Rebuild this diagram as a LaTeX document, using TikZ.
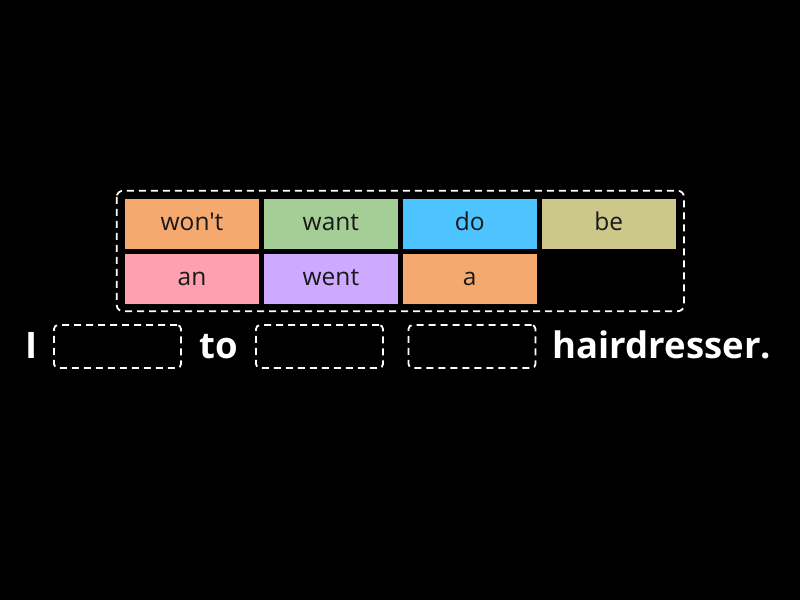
\documentclass[tikz,border=0pt]{standalone}
\usepackage{fontspec}
\setmainfont{Open Sans}[Ligatures=TeXOff]
\usepackage{tikz}
\usetikzlibrary{positioning}
\definecolor{tileorange}{RGB}{246,169,111}
\definecolor{tilegreen}{RGB}{165,206,151}
\definecolor{tileblue}{RGB}{77,196,255}
\definecolor{tileolive}{RGB}{204,200,138}
\definecolor{tilepink}{RGB}{255,160,176}
\definecolor{tilelilac}{RGB}{205,169,255}
\tikzset{
    tile/.style={
           rectangle,
           minimum width=134pt, minimum height=50pt,
           inner sep=0pt,
           text height=18pt, text depth=5pt,
           font=\fontsize{24.5}{28}\selectfont,
           text=black!90,
           },
}
\tikzset{
    blank/.style={
           rectangle, rounded corners=4pt,
           draw=white, line width=1.8pt,
           dash pattern=on 7pt off 5pt,
           minimum width=127pt, minimum height=43pt,
           },
}
\tikzset{
    word/.style={
           anchor=base,
           text=white,
           font=\fontsize{36.5}{42}\selectfont\bfseries,
           },
}

\begin{document}
\begin{tikzpicture}[x=1pt,y=-1pt]
\fill[black](0,0) rectangle (800,600);
\useasboundingbox (0,0) rectangle (800,600);
% word bank
\node[tile, fill=tileorange] (wont) at (192,224) {won't};
\node[tile, fill=tilegreen, right=4.5pt of wont] (want) {want};
\node[tile, fill=tileblue, right=4.5pt of want] (do) {do};
\node[tile, fill=tileolive, right=4.5pt of do] (be) {be};
\node[tile, fill=tilepink, below=5pt of wont] (an) {an};
\node[tile, fill=tilelilac, right=4.5pt of an] (went) {went};
\node[tile, fill=tileorange, right=4.5pt of went] (a) {a};
\draw[white, line width=1.8pt, dash pattern=on 7pt off 5pt, rounded corners=6pt]
    ([shift={(-8pt,8pt)}]wont.north west) rectangle ([shift={(8pt,-62pt)}]be.south east);
% sentence
\node[word] (i) at (32,358) {I};
\node[blank] (gap1) at (117.5,346.5) {};
\node[word] (to) at (219,358) {to};
\node[blank] (gap2) at (319.5,346.5) {};
\node[blank] (gap3) at (472,346.5) {};
\node[word] (hair) at (662,358) {hairdresser.};
\end{tikzpicture}
\end{document}
